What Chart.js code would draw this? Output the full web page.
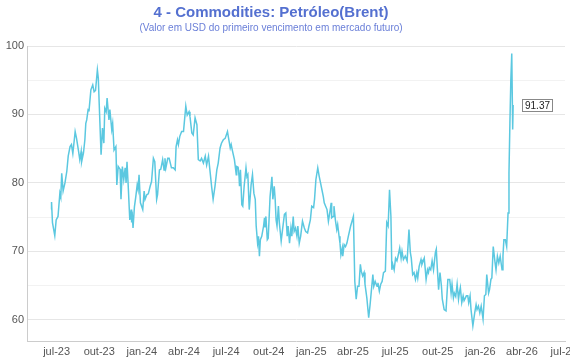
<!DOCTYPE html>
<html><head><meta charset="utf-8">
<script src="https://cdn.jsdelivr.net/npm/chart.js@4.4.1/dist/chart.umd.min.js"></script>
<style>html,body{margin:0;padding:0;background:#fff;}canvas{display:block;}</style>
</head><body>
<canvas id="c" width="570" height="360" style="width:570px;height:360px"></canvas>
<script>
const titleText = '4 - Commodities: Petróleo(Brent)';
const subtitleText = '(Valor em USD do primeiro vencimento em mercado futuro)';

const dates = [
'2023-06-19','2023-06-20','2023-06-22','2023-06-27','2023-06-30','2023-07-04','2023-07-08','2023-07-10','2023-07-12','2023-07-15',
'2023-07-19','2023-07-23','2023-07-26','2023-07-30','2023-08-02','2023-08-05','2023-08-10','2023-08-13','2023-08-17','2023-08-20',
'2023-08-23','2023-08-24','2023-08-28','2023-08-31','2023-09-02','2023-09-04','2023-09-07','2023-09-09','2023-09-13','2023-09-17',
'2023-09-20','2023-09-23','2023-09-27','2023-09-29','2023-10-01','2023-10-05','2023-10-08','2023-10-11','2023-10-13','2023-10-16',
'2023-10-18','2023-10-22','2023-10-24','2023-10-28','2023-10-30','2023-11-02','2023-11-06','2023-11-08','2023-11-11','2023-11-15',
'2023-11-17','2023-11-20','2023-11-23','2023-11-26','2023-11-28','2023-11-30','2023-12-03','2023-12-06','2023-12-09','2023-12-10',
'2023-12-11','2023-12-13','2023-12-16','2023-12-19','2023-12-22','2023-12-24','2023-12-26','2023-12-29',
'2024-01-03','2024-01-06','2024-01-08','2024-01-12','2024-01-15','2024-01-19','2024-01-22','2024-01-26','2024-01-29',
'2024-02-02','2024-02-04','2024-02-08','2024-02-11','2024-02-15','2024-02-18','2024-02-20','2024-02-22','2024-02-26','2024-02-29',
'2024-03-05','2024-03-09','2024-03-13','2024-03-15','2024-03-18','2024-03-20','2024-03-23','2024-03-27','2024-03-31',
'2024-04-05','2024-04-08','2024-04-12','2024-04-14','2024-04-18','2024-04-21','2024-04-25','2024-04-29',
'2024-05-02','2024-05-06','2024-05-09','2024-05-13','2024-05-17','2024-05-20','2024-05-24','2024-05-27','2024-05-31',
'2024-06-03','2024-06-07','2024-06-11','2024-06-14','2024-06-18','2024-06-21','2024-06-25','2024-06-29',
'2024-07-04','2024-07-07','2024-07-10','2024-07-12','2024-07-15','2024-07-19','2024-07-23','2024-07-24','2024-07-27','2024-07-29','2024-07-30',
'2024-08-01','2024-08-04','2024-08-06','2024-08-09','2024-08-13','2024-08-15','2024-08-17','2024-08-20','2024-08-24','2024-08-27','2024-08-30',
'2024-09-02','2024-09-04','2024-09-07','2024-09-09','2024-09-11','2024-09-13','2024-09-16','2024-09-20','2024-09-22','2024-09-23','2024-09-25','2024-09-28','2024-09-30',
'2024-10-04','2024-10-08','2024-10-10','2024-10-13','2024-10-15','2024-10-17','2024-10-19','2024-10-22','2024-10-24','2024-10-28','2024-10-31',
'2024-11-04','2024-11-07','2024-11-10','2024-11-12','2024-11-15','2024-11-18','2024-11-20','2024-11-23','2024-11-25','2024-11-28',
'2024-12-01','2024-12-03','2024-12-06','2024-12-09','2024-12-13','2024-12-17','2024-12-20','2024-12-24','2024-12-27','2024-12-30',
'2025-01-02','2025-01-06','2025-01-08','2025-01-11','2025-01-15','2025-01-18','2025-01-21','2025-01-24','2025-01-27','2025-01-29',
'2025-02-01','2025-02-04','2025-02-07','2025-02-11','2025-02-13','2025-02-14','2025-02-17','2025-02-19','2025-02-22','2025-02-25','2025-02-27',
'2025-03-02','2025-03-04','2025-03-06','2025-03-09','2025-03-10','2025-03-13','2025-03-16','2025-03-19','2025-03-22','2025-03-27','2025-03-30',
'2025-04-02','2025-04-05','2025-04-08','2025-04-11','2025-04-14','2025-04-17','2025-04-19','2025-04-22','2025-04-25','2025-04-27',
'2025-05-01','2025-05-05','2025-05-08','2025-05-11','2025-05-14','2025-05-16','2025-05-19','2025-05-23','2025-05-25','2025-05-28','2025-05-31',
'2025-06-03','2025-06-06','2025-06-10','2025-06-13','2025-06-16','2025-06-19','2025-06-22','2025-06-24','2025-06-26','2025-06-29',
'2025-07-02','2025-07-05','2025-07-08','2025-07-11','2025-07-14','2025-07-16','2025-07-19','2025-07-23','2025-07-27','2025-07-31',
'2025-08-03','2025-08-05','2025-08-08','2025-08-11','2025-08-14','2025-08-17','2025-08-19','2025-08-22','2025-08-26','2025-08-28',
'2025-09-02','2025-09-04','2025-09-06','2025-09-09','2025-09-11','2025-09-13','2025-09-16','2025-09-19','2025-09-22','2025-09-26','2025-09-28','2025-09-30',
'2025-10-03','2025-10-06','2025-10-09','2025-10-11','2025-10-15','2025-10-19','2025-10-23','2025-10-27','2025-10-30',
'2025-11-01','2025-11-04','2025-11-06','2025-11-09','2025-11-12','2025-11-15','2025-11-17','2025-11-19','2025-11-22','2025-11-25','2025-11-27',
'2025-12-02','2025-12-05','2025-12-07','2025-12-10','2025-12-12','2025-12-16','2025-12-20','2025-12-23','2025-12-25','2025-12-28','2025-12-31',
'2026-01-03','2026-01-07','2026-01-10','2026-01-13','2026-01-15','2026-01-19','2026-01-21','2026-01-24','2026-01-26','2026-01-29',
'2026-02-02','2026-02-04','2026-02-07','2026-02-10','2026-02-13','2026-02-17','2026-02-19','2026-02-21','2026-02-24','2026-02-27',
'2026-03-02','2026-03-04','2026-03-06','2026-03-08','2026-03-10','2026-03-12','2026-03-13'
];

const prices = [
76.1,77.2,74.2,72.3,74.6,75.1,78.5,77.9,81.4,78.8,
80.0,81.7,83.9,85.3,85.6,84.3,87.5,86.5,84.8,83.4,
84.6,83.1,84.4,86.3,88.7,89.2,90.7,90.6,93.6,94.3,
93.3,93.5,96.5,95.3,91.5,84.1,88.0,85.8,90.9,90.4,
92.4,89.2,90.7,87.8,88.7,84.8,85.3,79.7,82.4,82.0,
77.6,82.4,80.5,82.2,80.0,83.1,79.0,74.6,76.1,74.2,
75.8,73.4,76.5,78.0,79.7,79.0,81.2,77.1,
76.1,78.8,77.6,78.3,78.4,79.5,80.2,83.6,83.1,
77.6,78.3,81.9,82.0,83.4,81.9,83.6,82.2,83.6,83.6,
82.2,82.2,81.9,85.3,86.3,85.6,86.8,87.5,87.5,
91.2,89.9,90.4,89.7,87.3,87.0,89.5,88.5,
83.4,83.2,83.6,82.9,83.9,82.6,83.9,81.9,79.3,
77.6,79.5,81.9,82.9,85.1,85.8,86.3,86.5,
87.5,86.3,85.1,85.6,84.6,83.4,81.2,82.4,82.3,80.9,79.5,
81.9,76.8,76.6,79.5,82.2,80.9,81.2,76.1,79.7,81.2,78.5,
77.6,73.7,71.2,72.2,69.3,71.7,72.2,73.7,74.9,73.5,75.1,71.7,71.9,
78.0,80.9,77.6,79.5,77.6,74.6,73.7,76.6,74.2,71.5,73.2,
75.4,75.6,72.2,73.7,71.2,73.4,72.2,75.1,72.9,73.4,
72.2,73.7,71.2,72.2,74.4,73.4,72.9,72.7,73.7,74.6,
76.6,76.4,77.6,80.5,82.2,81.0,80.0,79.0,78.0,77.1,
76.6,76.1,74.4,76.1,77.1,74.9,75.1,76.6,74.6,73.2,73.9,
72.2,71.2,69.5,70.5,69.3,71.0,70.7,71.2,72.2,73.7,74.4,
75.1,65.6,63.0,64.9,64.9,68.1,67.1,66.4,66.9,65.2,
63.2,60.3,62.2,64.4,66.6,64.9,65.6,64.9,65.4,64.2,65.2,
65.6,66.9,67.1,74.2,73.7,79.0,75.1,67.3,68.1,67.3,
69.0,68.6,69.5,70.5,69.0,70.0,68.8,69.3,68.6,73.2,
69.8,69.0,66.6,66.9,65.9,66.9,66.1,67.8,68.8,68.1,
69.0,67.5,65.9,67.3,66.9,67.6,67.3,68.6,67.3,69.8,70.3,67.8,
64.4,66.9,65.0,63.0,61.5,61.3,65.9,65.9,63.9,
65.2,63.2,63.9,63.4,65.2,63.0,64.0,64.7,62.5,63.5,62.8,
63.5,63.5,62.5,63.5,61.5,59.1,61.0,62.2,61.5,62.0,61.0,
62.0,60.1,63.5,63.7,66.6,63.9,64.4,65.9,66.1,70.7,
68.3,67.3,69.3,68.3,69.3,67.3,69.3,71.7,71.7,70.7,
75.6,81.4,88.7,95.0,98.9,87.8,91.37
];

const tickDates = ['2023-07-01','2023-10-01','2024-01-01','2024-04-01','2024-07-01','2024-10-01',
  '2025-01-01','2025-04-01','2025-07-01','2025-10-01','2026-01-01','2026-04-01','2026-07-01'];
const monthAbbr = ['jan','fev','mar','abr','mai','jun','jul','ago','set','out','nov','dez'];
const yTicks = [60,65,70,75,80,85,90,95,100];
const xRange = ['2023-04-28','2026-07-03'];
const yRange = [56.9, 100];

function ts(s){ const p = s.split('-').map(Number); return Date.UTC(p[0], p[1]-1, p[2]); }

const points = dates.map((d,i) => ({x: ts(d), y: prices[i]}));
const FONT = '"Liberation Sans", Arial, Helvetica, sans-serif';

const titlePlugin = {
  id: 'titles',
  afterDraw(chart){
    const ctx = chart.ctx;
    ctx.save();
    ctx.textAlign = 'center';
    ctx.textBaseline = 'middle';
    ctx.fillStyle = '#5470d0';
    ctx.font = 'bold 15px ' + FONT;
    ctx.fillText(titleText, 271, 13);
    ctx.fillStyle = '#6a7fd8';
    ctx.font = '10px ' + FONT;
    ctx.fillText(subtitleText, 271, 28.5);
    ctx.restore();
  }
};

const lastLabelPlugin = {
  id: 'lastLabel',
  afterDatasetsDraw(chart){
    const meta = chart.getDatasetMeta(0);
    const pt = meta.data[meta.data.length-1];
    const v = prices[prices.length-1];
    const txt = v.toFixed(2);
    const ctx = chart.ctx;
    ctx.save();
    ctx.font = '10px ' + FONT;
    const w = Math.round(ctx.measureText(txt).width + 5);
    const h = 12;
    const x = Math.round(pt.x + 9);
    const y = chart.scales.y.getPixelForValue(v);
    const top = Math.round(y - h/2);
    ctx.fillStyle = '#fff';
    ctx.fillRect(x, top, w, h);
    ctx.strokeStyle = '#888';
    ctx.lineWidth = 1;
    ctx.strokeRect(x + 0.5, top + 0.5, w, h);
    ctx.fillStyle = '#222';
    ctx.textAlign = 'left';
    ctx.textBaseline = 'middle';
    ctx.fillText(txt, x + 3, top + h/2 + 1);
    ctx.restore();
  }
};

new Chart(document.getElementById('c'), {
  type: 'line',
  data: { datasets: [{
    data: points,
    borderColor: '#5bc8e0',
    borderWidth: 1.5,
    pointRadius: 0,
    tension: 0,
    fill: false
  }]},
  options: {
    responsive: false,
    animation: false,
    devicePixelRatio: 1,
    layout: { padding: { top: 46, left: 5, right: 5, bottom: 0 } },
    plugins: { legend: {display:false}, title: {display:false}, tooltip: {enabled:false} },
    scales: {
      x: {
        type: 'linear',
        min: ts(xRange[0]), max: ts(xRange[1]),
        afterBuildTicks: s => { s.ticks = tickDates.map(d => ({value: ts(d)})); },
        afterFit: s => { s.paddingLeft = 0; s.paddingRight = 0; s.height = 19; },
        grid: { display: false, drawTicks: false },
        border: { display: true, color: '#cccccc', width: 1 },
        ticks: {
          autoSkip: false, maxRotation: 0, minRotation: 0, padding: 4,
          color: '#555', font: { family: FONT, size: 11 },
          callback: v => { const d = new Date(v); return monthAbbr[d.getUTCMonth()] + '-' + String(d.getUTCFullYear()).slice(2); }
        }
      },
      y: {
        min: yRange[0], max: yRange[1],
        afterBuildTicks: s => { s.ticks = yTicks.map(v => ({value: v})); },
        afterFit: s => { s.width = 22; s.paddingTop = 0; s.paddingBottom = 0; },
        grid: { drawTicks: false, color: c => (c.tick && c.tick.value % 10 === 0) ? '#e6e6e6' : '#f2f2f2' },
        border: { display: true, color: '#cccccc', width: 1 },
        ticks: {
          padding: 3, color: '#555', font: { family: FONT, size: 11 },
          callback: v => (v % 10 === 0) ? String(v) : ''
        }
      }
    }
  },
  plugins: [titlePlugin, lastLabelPlugin]
});
</script>
</body></html>
